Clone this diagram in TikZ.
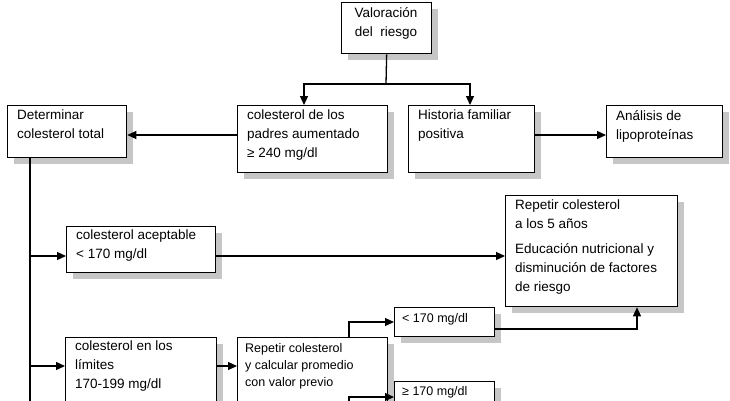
\documentclass[tikz,border=0pt]{standalone}
\usepackage{fontspec}
\setmainfont{Liberation Sans}
\usetikzlibrary{shadows,arrows.meta,calc}
\begin{document}
\begin{tikzpicture}[x=1pt,y=-1pt,
 box/.style={draw,line width=1.3pt,fill=white,anchor=north west,inner sep=0,
   drop shadow={shadow xshift=6pt,shadow yshift=-6pt,fill=gray!45,opacity=1}},
 txt/.style={anchor=north west,inner sep=0,align=left,font=\fontsize{13.5}{19}\selectfont},
 stxt/.style={txt,font=\fontsize{12.5}{17}\selectfont},
 arr/.style={line width=1.3pt,-{Triangle[length=9pt,width=8pt]}},
 ln/.style={line width=1.3pt}]
\useasboundingbox (0,0) rectangle (730,400);
\node[box,minimum width=90,minimum height=51] (val) at (341,2) {};
\node[txt,align=center,anchor=north] (valt) at (386,7) {Valoración\\del\ \ riesgo};
\node[box,minimum width=150,minimum height=67] (pad) at (237,105) {};
\node[txt] (padt) at (247,110) {colesterol de los\\padres aumentado\\≥ 240 mg/dl};
\node[box,minimum width=126,minimum height=67] (his) at (408,105) {};
\node[txt] (hist) at (418,110) {Historia familiar\\positiva};
\node[box,minimum width=119,minimum height=52] (det) at (7,105) {};
\node[txt] (dett) at (17,110) {Determinar\\colesterol total};
\node[box,minimum width=116,minimum height=52] (ana) at (606,105) {};
\node[txt] (anat) at (616,110) {Análisis de\\lipoproteínas};
\node[box,minimum width=172,minimum height=111] (rep) at (505,195) {};
\node[txt] (rept) at (515,200) {Repetir colesterol\\a los 5 años\\[6pt]Educación nutricional y\\disminución de factores\\de riesgo};
\node[box,minimum width=149,minimum height=46] (acc) at (66,226) {};
\node[txt] (acct) at (76,230) {colesterol aceptable\\< 170 mg/dl};
\node[box,minimum width=100,minimum height=29] (lt) at (394,307) {};
\node[stxt] (ltt) at (402,313) {< 170 mg/dl};
\node[box,minimum width=151,minimum height=70] (lim) at (65,337) {};
\node[txt] (limt) at (75,341) {colesterol en los\\límites\\170-199 mg/dl};
\node[box,minimum width=150,minimum height=70] (pro) at (237,337) {};
\node[stxt] (prot) at (245,343) {Repetir colesterol\\y calcular promedio\\con valor previo};
\node[box,minimum width=100,minimum height=29] (ge) at (394,381) {};
\node[stxt] (get) at (402,386) {≥ 170 mg/dl};
\coordinate (bar) at (386,84);
\coordinate (trunk) at (30,402);
\draw[ln] (val.south) -- (bar);
\draw[arr] (bar) -| (pad.north -| 304,0);
\draw[arr] (bar) -| (his.north -| 470,0);
\draw[arr] (pad.west |- 0,135) -- (det.east |- 0,135);
\draw[arr] (his.east |- 0,135) -- (ana.west |- 0,135);
\draw[ln] (det.south -| 30,0) -- (trunk);
\draw[arr] (30,256) -- (acc.west |- 0,256);
\draw[arr] (30,366) -- (lim.west |- 0,366);
\draw[arr] (acc.east |- 0,256) -- (rep.west |- 0,256);
\draw[arr] (lim.east |- 0,366) -- (pro.west |- 0,366);
\draw[arr] (pro.north -| 349,0) |- (lt.west |- 0,322);
\draw[arr] (pro.south -| 349,0) |- (ge.west |- 0,397);
\draw[arr] (lt.east |- 0,329) -| (rep.south -| 637,0);
\end{tikzpicture}
\end{document}
